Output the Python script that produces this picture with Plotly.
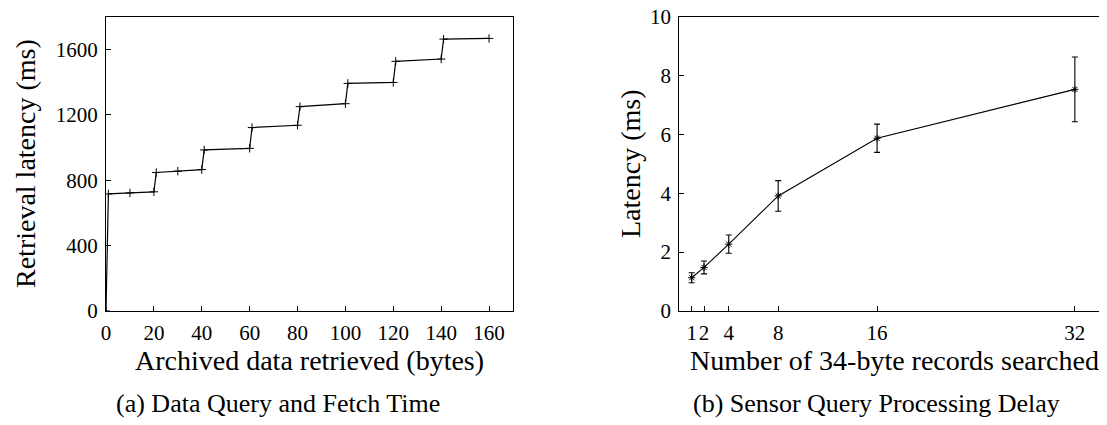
import plotly.graph_objects as go

# Panel (a): Data Query and Fetch Time
bytes_x = [0, 1, 10, 20, 21, 30, 40, 41, 60, 61, 80, 81, 100, 101, 120, 121, 140, 141, 160]
latency_a = [0, 716, 722, 729, 847, 855, 865, 985, 995, 1122, 1136, 1250, 1268, 1392, 1398, 1527, 1541, 1663, 1667]
ticks_a_x = [0, 20, 40, 60, 80, 100, 120, 140, 160]
ticks_a_y = [0, 400, 800, 1200, 1600]

# Panel (b): Sensor Query Processing Delay
records = [1, 2, 4, 8, 16, 32]
latency_b = [1.13, 1.48, 2.27, 3.91, 5.87, 7.53]
err_b = [0.17, 0.22, 0.31, 0.52, 0.48, 1.10]
ticks_b_x = [1, 2, 4, 8, 16, 32]
ticks_b_y = [0, 2, 4, 6, 8, 10]

FONT = "Liberation Serif, Times New Roman, Times, serif"
OFF = 8  # page body margin
W, H = 1107 - OFF, 425 - OFF

def px(x):
    return (x - OFF) / W

def py(y):
    return (H - (y - OFF)) / H

fig = go.Figure()
fig.add_trace(go.Scatter(
    x=bytes_x, y=latency_a, mode="lines+markers",
    line=dict(color="black", width=1.2),
    marker=dict(symbol="cross-thin", size=6, line=dict(color="black", width=1)),
    xaxis="x", yaxis="y", showlegend=False))
fig.add_trace(go.Scatter(
    x=records, y=latency_b, mode="lines+markers",
    line=dict(color="black", width=1.1),
    marker=dict(symbol="asterisk-open", size=6, line=dict(color="black", width=1)),
    error_y=dict(type="data", array=err_b, visible=True, color="black", thickness=1.1, width=3),
    xaxis="x2", yaxis="y2", showlegend=False))

axcommon = dict(showgrid=False, zeroline=False, showline=True, linecolor="black",
                linewidth=1.3, ticks="inside", ticklen=5, tickcolor="black", tickwidth=1,
                automargin=False, ticklabelstandoff=3, ticklabeloverflow="allow",
                tickangle=0,
                tickfont=dict(family=FONT, size=21, color="black"))

fig.update_layout(
    width=W, height=H, margin=dict(l=0, r=0, t=0, b=0, autoexpand=False),
    paper_bgcolor="white", plot_bgcolor="white",
    xaxis=dict(domain=[px(106), px(513)], range=[0, 170], tickvals=ticks_a_x,
               mirror=True, anchor="y", **axcommon),
    yaxis=dict(domain=[py(311), py(16.7)], range=[0, 1800], tickvals=ticks_a_y,
               mirror=True, anchor="x", **axcommon),
    xaxis2=dict(domain=[px(679.3), 1.0], range=[0, 34.6], tickvals=ticks_b_x,
                ticktext=[str(v) for v in ticks_b_x], mirror=True, anchor="y2", **axcommon),
    yaxis2=dict(domain=[py(311), py(16.7)], range=[0, 10], tickvals=ticks_b_y,
                mirror=False, anchor="x2", **axcommon),
)

def ann(text, x, y, size, angle=0):
    fig.add_annotation(text=text, x=px(x), y=py(y), xref="paper", yref="paper",
                       showarrow=False, textangle=angle, xanchor="center", yanchor="middle",
                       font=dict(family=FONT, size=size, color="black"))

ann("Retrieval latency (ms)", 25, 164, 28, -90)
ann("Archived data retrieved (bytes)", 309, 360, 28)
ann("(a) Data Query and Fetch Time", 278, 403, 26)
ann("Latency (ms)", 630, 164, 28, -90)
ann("Number of 34-byte records searched", 894, 360, 28)
ann("(b) Sensor Query Processing Delay", 876, 403, 26)

fig.write_html("out.html")
